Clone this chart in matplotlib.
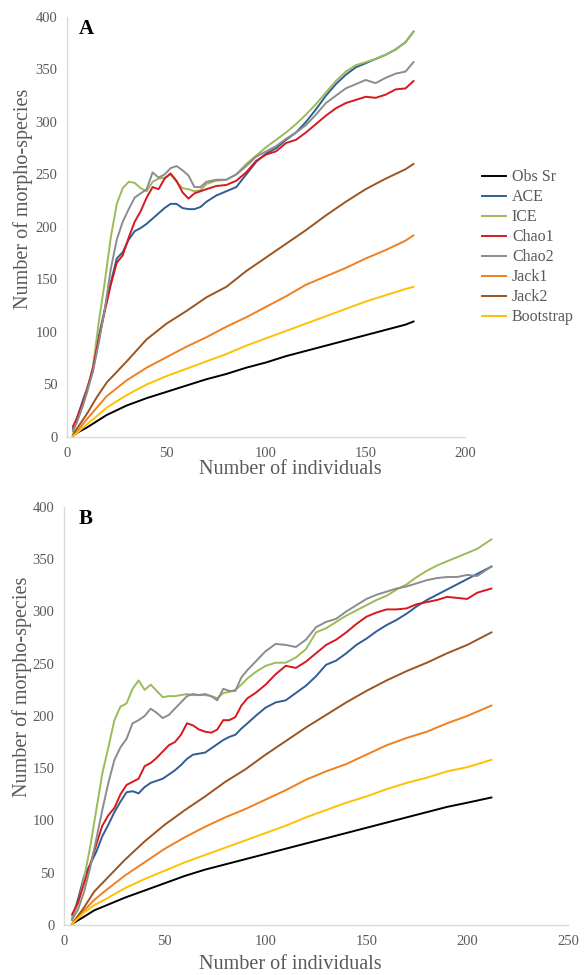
#Species accumulation curves for two sites (A and B) with several richness estimators
import matplotlib
matplotlib.use("Agg")
import matplotlib.pyplot as plt

plt.rcParams["font.family"] = ["Liberation Serif", "DejaVu Serif"]

series_names = ["Obs Sr", "ACE", "ICE", "Chao1", "Chao2", "Jack1", "Jack2", "Bootstrap"]
series_colors = ["#000000", "#2E5E95", "#9BBB59", "#D7191C", "#8C8C8C", "#F07F20", "#9C5420", "#FFC000"]

# ---- Panel A ----
a_x_smooth = [3, 5, 10, 15, 20, 30, 40, 50, 60, 70, 80, 90, 100, 110, 120, 130, 140, 150, 160, 170, 174]
a_obs = [1, 4, 9, 15, 21, 30, 37, 43, 49, 55, 60, 66, 71, 77, 82, 87, 92, 97, 102, 107, 110]
a_jack1 = [1, 5, 17, 28, 39, 54, 66, 76, 86, 95, 105, 114, 124, 134, 145, 153, 161, 170, 178, 187, 192]
a_jack2 = [2, 8, 22, 38, 52, 72, 93, 108, 120, 133, 143, 158, 171, 184, 197, 211, 224, 236, 246, 255, 260]
a_boot = [1, 4, 12, 20, 28, 40, 50, 58, 65, 72, 79, 87, 94, 101, 108, 115, 122, 129, 135, 141, 143]

a_x = [3, 5, 8, 10, 13, 16, 19, 22, 25, 28, 31, 34, 37, 40, 43, 46, 49, 52, 55, 58, 61, 64, 67,
       70, 75, 80, 85, 90, 95, 100, 105, 110, 115, 120, 125, 130, 135, 140, 145, 150, 155, 160,
       165, 170, 174]
a_ice = [5, 15, 30, 45, 66, 110, 148, 190, 222, 237, 243, 242, 237, 234, 243, 246, 247, 250, 243,
         237, 236, 234, 235, 241, 244, 245, 250, 260, 268, 276, 283, 290, 298, 307, 317, 328, 339,
         348, 354, 357, 360, 364, 369, 376, 386]
a_ace = [8, 18, 35, 46, 63, 96, 122, 147, 170, 176, 188, 196, 199, 203, 208, 213, 218, 222, 222,
         218, 217, 217, 219, 224, 230, 234, 238, 250, 262, 270, 275, 283, 290, 300, 312, 325, 336,
         345, 352, 356, 360, 364, 369, 376, 386]
a_chao1 = [10, 18, 33, 44, 66, 94, 120, 145, 166, 173, 190, 205, 215, 228, 238, 236, 246, 251, 244,
           233, 227, 232, 234, 236, 239, 240, 244, 252, 263, 269, 272, 280, 283, 290, 298, 306, 313,
           318, 321, 324, 323, 326, 331, 332, 339]
a_chao2 = [6, 14, 30, 42, 62, 90, 122, 160, 188, 205, 217, 228, 232, 236, 252, 247, 250, 256, 258,
           254, 249, 238, 238, 243, 245, 245, 250, 258, 267, 272, 277, 284, 290, 297, 307, 318, 325,
           332, 336, 340, 337, 342, 346, 348, 357]

# ---- Panel B ----
b_x_smooth = [4, 10, 15, 20, 30, 40, 50, 60, 70, 80, 90, 100, 110, 120, 130, 140, 150, 160, 170,
              180, 190, 200, 212]
b_obs = [1, 8, 14, 18, 26, 33, 40, 47, 53, 58, 63, 68, 73, 78, 83, 88, 93, 98, 103, 108, 113, 117, 122]
b_jack1 = [1, 14, 24, 32, 47, 60, 73, 84, 94, 103, 111, 120, 129, 139, 147, 154, 163, 172, 179,
           185, 193, 200, 210]
b_jack2 = [1, 17, 32, 42, 62, 80, 96, 110, 123, 137, 149, 163, 176, 189, 201, 213, 224, 234, 243,
           251, 260, 268, 280]
b_boot = [1, 12, 19, 24, 35, 44, 52, 60, 67, 74, 81, 88, 95, 103, 110, 117, 123, 130, 136, 141,
          147, 151, 158]

b_x = [4, 7, 10, 13, 16, 19, 22, 25, 28, 31, 34, 37, 40, 43, 46, 49, 52, 55, 58, 61, 64, 67, 70,
       73, 76, 79, 82, 85, 88, 91, 95, 100, 105, 110, 115, 120, 125, 130, 135, 140, 145, 150, 155,
       160, 165, 170, 175, 180, 185, 190, 195, 200, 205, 212]
b_ice = [8, 20, 45, 75, 110, 145, 170, 196, 209, 212, 226, 234, 225, 230, 224, 218, 219, 219, 220,
         221, 220, 220, 220, 219, 217, 222, 223, 225, 230, 236, 242, 248, 251, 251, 256, 264, 280,
         284, 290, 296, 301, 306, 311, 315, 321, 326, 333, 339, 344, 348, 352, 356, 360, 369]
b_ace = [5, 25, 47, 58, 70, 85, 96, 108, 118, 127, 128, 126, 132, 136, 138, 140, 144, 148, 153,
         159, 163, 164, 165, 169, 173, 177, 180, 182, 188, 193, 200, 208, 213, 215, 222, 229, 238,
         249, 253, 260, 268, 274, 281, 287, 292, 298, 305, 311, 316, 321, 326, 331, 336, 343]
b_chao1 = [10, 22, 40, 58, 77, 95, 105, 112, 125, 134, 137, 140, 152, 155, 160, 166, 172, 175,
           182, 193, 191, 187, 185, 184, 187, 196, 196, 199, 210, 217, 222, 230, 240, 248, 246, 252,
           260, 268, 273, 280, 288, 295, 299, 302, 302, 303, 307, 309, 311, 314, 313, 312, 318, 322]
b_chao2 = [5, 15, 32, 55, 82, 110, 136, 158, 170, 178, 193, 196, 200, 207, 203, 198, 201, 207, 213,
           219, 221, 220, 221, 219, 215, 226, 224, 224, 237, 244, 252, 262, 269, 268, 266, 273, 285,
           290, 293, 300, 306, 312, 316, 319, 322, 324, 327, 330, 332, 333, 333, 335, 334, 343]

TEXT_GRAY = "#595959"
SPINE_GRAY = "#D9D9D9"


def draw_panel(ax, xs, xu, upper, lower, xmax, letter):
    # upper estimators (wiggly) and lower ones (smooth) in legend order
    obs, jack1, jack2, boot = lower
    ace, ice, chao1, chao2 = upper
    data = [(xs, obs), (xu, ace), (xu, ice), (xu, chao1), (xu, chao2), (xs, jack1), (xs, jack2), (xs, boot)]
    lines = []
    for (x, y), name, col in zip(data, series_names, series_colors):
        ln, = ax.plot(x, y, color=col, lw=1.4, label=name, solid_joinstyle="round")
        lines.append(ln)
    ax.set_xlim(0, xmax)
    ax.set_ylim(0, 400)
    ax.set_yticks(range(0, 401, 50))
    ax.set_xticks(range(0, xmax + 1, 50))
    for s in ["top", "right"]:
        ax.spines[s].set_visible(False)
    for s in ["left", "bottom"]:
        ax.spines[s].set_color(SPINE_GRAY)
        ax.spines[s].set_linewidth(1.0)
    ax.tick_params(length=0, labelsize=10.5, colors=TEXT_GRAY, pad=7)
    ax.set_xlabel("Number of individuals", fontsize=14.5, color=TEXT_GRAY, va="center")
    ax.set_ylabel("Number of morpho-species", fontsize=14.5, color=TEXT_GRAY, va="center")
    ax.text(0.03, 0.995, letter, transform=ax.transAxes, fontsize=15, fontweight="bold",
            va="top", ha="left", color="black")
    return lines


fig = plt.figure(figsize=(5.84, 9.75), dpi=100)
ax_a = fig.add_axes([0.1147, 0.5518, 0.682, 0.4308])
ax_b = fig.add_axes([0.1096, 0.0513, 0.863, 0.4287])

lines = draw_panel(ax_a, a_x_smooth, a_x, (a_ace, a_ice, a_chao1, a_chao2),
                   (a_obs, a_jack1, a_jack2, a_boot), 200, "A")
draw_panel(ax_b, b_x_smooth, b_x, (b_ace, b_ice, b_chao1, b_chao2),
           (b_obs, b_jack1, b_jack2, b_boot), 250, "B")

ax_a.xaxis.set_label_coords(0.56, -0.078)
ax_a.yaxis.set_label_coords(-0.11, 0.568)
ax_b.xaxis.set_label_coords(0.45, -0.095)
ax_b.yaxis.set_label_coords(-0.084, 0.569)

leg = fig.legend(lines, series_names, loc="upper left", bbox_to_anchor=(0.815, 0.833),
                 frameon=False, fontsize=11.5, handlelength=1.5, handletextpad=0.35,
                 labelspacing=0.25, borderaxespad=0)
for t in leg.get_texts():
    t.set_color(TEXT_GRAY)

fig.savefig("out.png", dpi=100)
